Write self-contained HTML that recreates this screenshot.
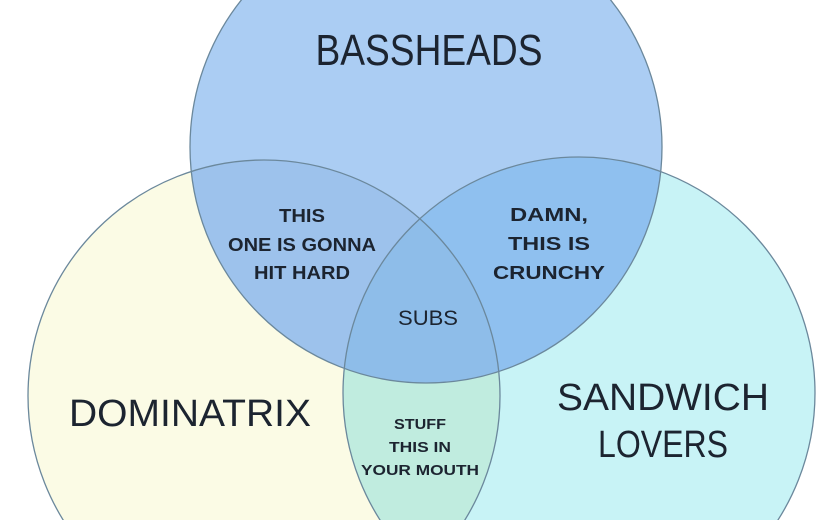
<!DOCTYPE html>
<html><head><meta charset="utf-8"><style>html,body{margin:0;padding:0;background:#fff;width:840px;height:520px;overflow:hidden}svg{display:block}</style></head>
<body>
<svg width="840" height="520" viewBox="0 0 840 520" xmlns="http://www.w3.org/2000/svg" font-family="Liberation Sans, sans-serif">
<rect width="840" height="520" fill="#fff"/>
<defs>
<clipPath id="cT"><circle cx="426" cy="147" r="236"/></clipPath>
<clipPath id="cL"><circle cx="264" cy="396" r="236"/></clipPath>
<clipPath id="cR"><circle cx="579" cy="393" r="236"/></clipPath>
</defs>
<circle cx="426" cy="147" r="236" fill="#abcdf3"/>
<circle cx="264" cy="396" r="236" fill="#fbfbe5"/>
<circle cx="579" cy="393" r="236" fill="#c8f3f6"/>
<circle cx="579" cy="393" r="236" fill="#c0ecdf" clip-path="url(#cL)"/>
<g clip-path="url(#cT)">
<circle cx="264" cy="396" r="236" fill="#9dc2ec"/>
<circle cx="579" cy="393" r="236" fill="#8fc0ef"/>
<g clip-path="url(#cL)"><circle cx="579" cy="393" r="236" fill="#8ebde9"/></g>
</g>
<g fill="none" stroke="#6b889c" stroke-width="1.3">
<circle cx="426" cy="147" r="236"/>
<circle cx="264" cy="396" r="236"/>
<circle cx="579" cy="393" r="236"/>
</g>
<g fill="#1c2430" text-anchor="middle">
<text x="429" y="65" font-size="44" textLength="227" lengthAdjust="spacingAndGlyphs">BASSHEADS</text>
<text x="190" y="426" font-size="38" textLength="242" lengthAdjust="spacingAndGlyphs">DOMINATRIX</text>
<text x="663" y="410" font-size="38" textLength="212" lengthAdjust="spacingAndGlyphs">SANDWICH</text>
<text x="663" y="457" font-size="38" textLength="130" lengthAdjust="spacingAndGlyphs">LOVERS</text>
<g font-weight="bold" font-size="18">
<text x="302" y="222" textLength="46" lengthAdjust="spacingAndGlyphs">THIS</text>
<text x="302" y="251" textLength="148" lengthAdjust="spacingAndGlyphs">ONE IS GONNA</text>
<text x="302" y="279" textLength="96" lengthAdjust="spacingAndGlyphs">HIT HARD</text>
<text x="549" y="221" textLength="78" lengthAdjust="spacingAndGlyphs">DAMN,</text>
<text x="549" y="250" textLength="82" lengthAdjust="spacingAndGlyphs">THIS IS</text>
<text x="549" y="279" textLength="112" lengthAdjust="spacingAndGlyphs">CRUNCHY</text>
</g>
<text x="428" y="325" font-size="21" textLength="60" lengthAdjust="spacingAndGlyphs">SUBS</text>
<g font-weight="bold" font-size="15">
<text x="420" y="429" textLength="52" lengthAdjust="spacingAndGlyphs">STUFF</text>
<text x="420" y="452" textLength="62" lengthAdjust="spacingAndGlyphs">THIS IN</text>
<text x="420" y="475" textLength="118" lengthAdjust="spacingAndGlyphs">YOUR MOUTH</text>
</g>
</g>
</svg>
</body></html>
